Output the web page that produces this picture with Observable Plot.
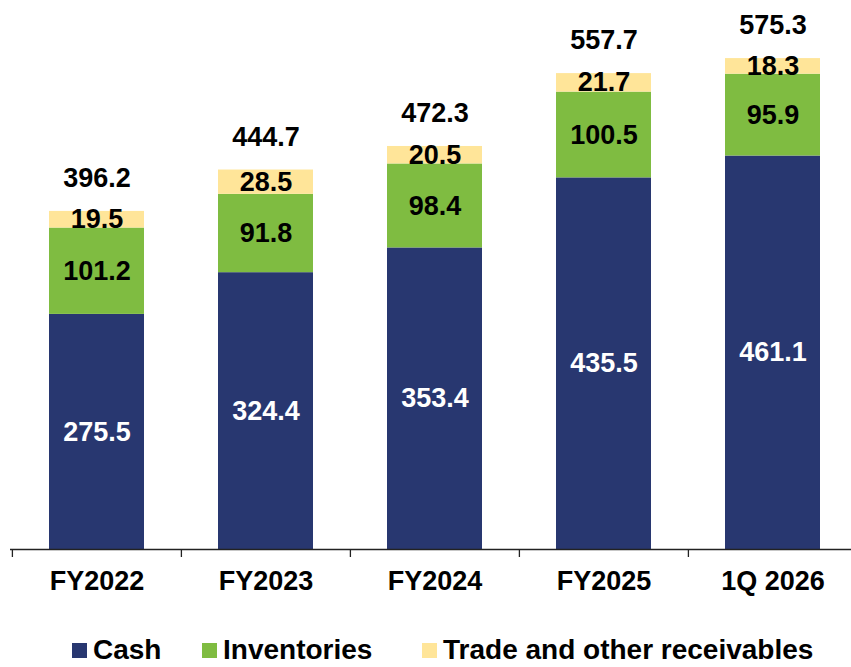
<!DOCTYPE html>
<html>
<head>
<meta charset="utf-8">
<script src="https://cdn.jsdelivr.net/npm/d3@7"></script>
<script src="https://cdn.jsdelivr.net/npm/@observablehq/plot@0.6"></script>
<style>
  html, body { margin: 0; padding: 0; background: #fff; }
  body { width: 851px; height: 667px; overflow: hidden; font-family: "Liberation Sans", Arial, sans-serif; }
  #chart svg { display: block; }
  #legend { position: relative; height: 47px; font-weight: bold; font-size: 28px; line-height: 20px; color: #000; }
  #legend .item { position: absolute; top: 20px; height: 20px; display: flex; align-items: center; white-space: nowrap; }
  #legend .sw { width: 15px; height: 15px; margin-right: 6px; }
</style>
</head>
<body>
<div id="chart"></div>
<div id="legend"></div>
<script>
const periods = ["FY2022", "FY2023", "FY2024", "FY2025", "1Q 2026"];
const seriesNames = ["Cash", "Inventories", "Trade and other receivables"];
const cash = [275.5, 324.4, 353.4, 435.5, 461.1];
const inventories = [101.2, 91.8, 98.4, 100.5, 95.9];
const receivables = [19.5, 28.5, 20.5, 21.7, 18.3];
const totals = [396.2, 444.7, 472.3, 557.7, 575.3];
const colors = ["#283770", "#7fbc41", "#ffe599"];
const labelColors = ["#ffffff", "#000000", "#000000"];

const seriesValues = [cash, inventories, receivables];
const table = [];
seriesValues.forEach((vals, s) => {
  vals.forEach((v, i) => table.push({period: periods[i], series: seriesNames[s], value: v}));
});
const totalTable = periods.map((p, i) => ({period: p, total: totals[i]}));

const font = "'Liberation Sans', Arial, sans-serif";
const step = 846 / periods.length;

const chart = Plot.plot({
  width: 851,
  height: 620,
  marginTop: 37,
  marginBottom: 71,
  marginLeft: 10,
  marginRight: 0,
  style: {fontFamily: font, background: "#fff"},
  x: {domain: periods, range: [11, 857], paddingInner: 0.44, paddingOuter: 0.22, axis: null},
  y: {domain: [0, 600], axis: null},
  color: {domain: seriesNames, range: colors},
  marks: [
    Plot.barY(table, {x: "period", y: "value", fill: "series", order: seriesNames}),
    Plot.text(table, Plot.stackY({
      x: "period", y: "value", text: d => d.value.toFixed(1), order: seriesNames,
      fill: d => labelColors[seriesNames.indexOf(d.series)],
      fontSize: 27, fontWeight: "bold"
    })),
    Plot.text(totalTable, {x: "period", y: "total", text: d => d.total.toFixed(1), dy: -33, fontSize: 27, fontWeight: "bold", fill: "#000"}),
    Plot.ruleY([0], {stroke: "#222", strokeWidth: 1.3}),
    Plot.ruleX(periods, {x: d => d, y1: 0, y2: 0, insetBottom: -8, dx: -step / 2, stroke: "#222", strokeWidth: 1.3}),
    Plot.axisX({tickSize: 0, tickPadding: 21, fontSize: 27, fontWeight: "bold", fill: "#000", label: null})
  ]
});
document.getElementById("chart").appendChild(chart);

const legendPos = [72, 202, 422];
const legend = document.getElementById("legend");
seriesNames.forEach((name, i) => {
  const item = document.createElement("div");
  item.className = "item";
  item.style.left = legendPos[i] + "px";
  const sw = document.createElement("span");
  sw.className = "sw";
  sw.style.background = colors[i];
  const lb = document.createElement("span");
  lb.textContent = name;
  item.appendChild(sw);
  item.appendChild(lb);
  legend.appendChild(item);
});
</script>
</body>
</html>
